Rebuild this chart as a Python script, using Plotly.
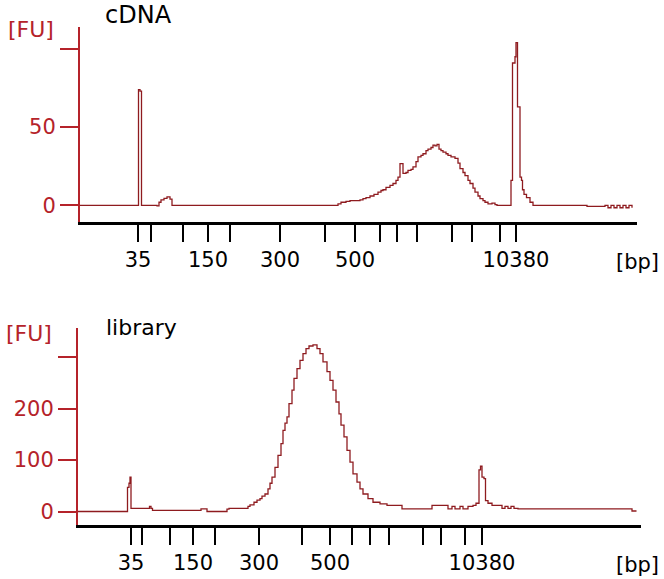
import plotly.graph_objects as go

W, H = 664, 579

# ---------------- data: cDNA trace (x = migration position, y = FU) ----------------
cdna_x = [80, 137.5, 138.5, 140, 141.5, 157, 159, 161, 164, 167, 170, 172,
          338, 341, 346, 350, 355, 360, 363, 366, 370, 374, 378, 381, 383, 386, 390, 393, 396, 398,
          400, 403, 406, 408, 411, 413, 416, 418, 421, 423, 426, 428, 431, 433, 435, 437, 439, 441, 443,
          446, 448, 451, 455, 458, 460, 463, 465, 468, 470, 473, 475, 478, 480, 483, 485, 488, 492, 495, 497,
          511, 512.5, 515, 516, 517.5, 520, 521.5, 522.5, 524, 526.5, 530, 533,
          587, 605, 608, 611, 614, 617, 620, 623, 626, 629, 632]
cdna_y = [0, 0, 74, 73, 0, -0.3, 2, 3.5, 4.5, 5.5, 4, 0,
          1, 2, 2.5, 3, 3, 3.5, 4.3, 5, 6, 7, 8.5, 9.5, 10, 11.5, 12.8, 14, 16, 18,
          26.7, 20.5, 21, 22.4, 23, 24.6, 28, 31, 32, 33, 35, 36, 37, 38.5, 38, 39, 36, 35, 34,
          33, 32, 31, 30, 27, 23.5, 21, 19, 16, 14, 11, 8.5, 6, 4.3, 3, 2, 1, 1.5, 0.5, 0,
          16, 91, 95, 104, 63, 18, 16, 10, 7, 5, 2, 0,
          -0.6, 0, -1.5, 0, -1.5, 0, -1.5, 0, -1.5, 0, -1.5]

# ---------------- data: library trace ----------------
lib_x = [78, 127.5, 129, 130, 131, 148, 149.5, 151, 152.5, 201, 207, 227, 229, 248, 250,
         254, 257, 260, 262, 265, 268, 270, 272, 275, 278, 281, 283, 285, 287, 289, 292, 294, 297,
         300, 303, 306, 309, 313, 317, 320, 323, 327, 330, 333, 336, 339, 341, 344, 347, 350, 353,
         357, 360, 363, 368, 373, 380, 387, 402, 432, 448, 452, 455, 460, 463, 468, 473, 476,
         479, 480.5, 482, 484, 485.5, 488, 492, 502, 505, 508, 511, 514, 518, 632, 636.5]
lib_y = [0, 47, 55, 67, 6, 6, 10, 6, 2, 5, 0, 4.5, 6, 10, 13,
         18, 22, 25, 30, 34, 44, 55, 67, 86, 109, 132, 158, 172, 184, 210, 236, 259, 278,
         294, 307, 317, 322, 324, 317, 307, 291, 272, 255, 236, 213, 190, 168, 145, 119, 96, 73,
         57, 44, 34, 25, 18, 15, 12, 5, 12, 5, 10, 5, 10, 5, 10, 12, 16,
         81, 88, 67, 64, 21, 16, 12, 6, 10, 6, 10, 6, 5, 1, 1]

# ---------------- ladder ticks ----------------
top_ticks = [138, 151, 183, 208, 230, 280, 325, 355, 380, 397, 417, 452, 472, 500, 516]
top_labels = ["35", "", "", "150", "", "300", "", "500", "", "", "", "", "", "", "10380"]
bot_ticks = [131, 142, 170, 193, 215, 259, 302, 330, 352, 370, 389, 423, 441, 465, 482]
bot_labels = ["35", "", "", "150", "", "300", "", "500", "", "", "", "", "", "", "10380"]

top_fu_ticks = [0, 50, 100]
top_fu_labels = ["0", "50", ""]
bot_fu_ticks = [0, 100, 200, 300]
bot_fu_labels = ["0", "100", "200", ""]

RED = "#b5232a"
LINE = "#8e1b1f"
FONT = "DejaVu Sans"

fig = go.Figure()
fig.add_trace(go.Scatter(x=cdna_x, y=cdna_y, mode="lines", line=dict(shape="hv", color=LINE, width=1.3),
                         xaxis="x", yaxis="y", showlegend=False, hoverinfo="skip"))
fig.add_trace(go.Scatter(x=lib_x, y=lib_y, mode="lines", line=dict(shape="hv", color=LINE, width=1.3),
                         xaxis="x2", yaxis="y2", showlegend=False, hoverinfo="skip"))

def px(v):
    return v / W

def py(v):
    return 1 - v / H

xcommon = dict(showgrid=False, zeroline=False, showline=True, linecolor="black", linewidth=2.5,
               ticks="outside", ticklen=18, tickwidth=2, tickcolor="black",
               tickfont=dict(family=FONT, size=21, color="black"), tickmode="array")
ycommon = dict(showgrid=False, zeroline=False, showline=True, linecolor=RED, linewidth=2,
               ticks="outside", ticklen=18, tickwidth=2, tickcolor=RED,
               tickfont=dict(family=FONT, size=21, color=RED), tickmode="array")

fig.update_layout(
    width=W, height=H, margin=dict(l=0, r=0, t=0, b=0),
    paper_bgcolor="white", plot_bgcolor="white",
    xaxis=dict(xcommon, domain=[px(80), px(637)], range=[80, 637], anchor="y",
               tickvals=top_ticks, ticktext=top_labels),
    yaxis=dict(ycommon, domain=[py(221.5), py(27)], range=[-10.3, 114], anchor="x",
               tickvals=top_fu_ticks, ticktext=top_fu_labels),
    xaxis2=dict(xcommon, domain=[px(78), px(641)], range=[78, 641], anchor="y2",
                tickvals=bot_ticks, ticktext=bot_labels),
    yaxis2=dict(ycommon, domain=[py(524.5), py(328)], range=[-25.3, 357], anchor="x2",
                tickvals=bot_fu_ticks, ticktext=bot_fu_labels),
)

ann = [
    ("cDNA", 138, 15, "black", 24),
    ("library", 141, 327, "black", 22),
    ("[FU]", 31, 30, RED, 22),
    ("[FU]", 29, 333, RED, 22),
    ("[bp]", 637, 262, "black", 21),
    ("[bp]", 637, 565, "black", 21),
]
for text, x, y, c, s in ann:
    fig.add_annotation(text=text, x=px(x), y=py(y), xref="paper", yref="paper",
                       showarrow=False, xanchor="center", yanchor="middle",
                       font=dict(family=FONT, size=s, color=c))

fig.write_html("out.html", config={"displayModeBar": False},
               post_script="document.body.style.margin='0';document.body.style.overflow='hidden';")
